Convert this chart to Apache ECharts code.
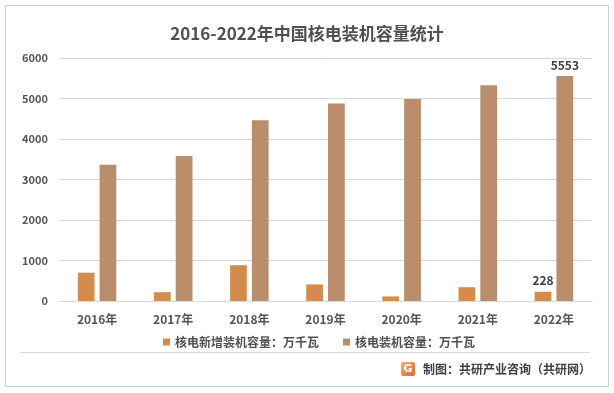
<!DOCTYPE html>
<html><head><meta charset="utf-8">
<script src="https://cdn.jsdelivr.net/npm/echarts@6/dist/echarts.min.js"></script>
<style>html,body{margin:0;padding:0;background:#fff}#c{width:614px;height:393px}</style>
</head><body><div id="c"></div>
<script>
const categories = ['2016年','2017年','2018年','2019年','2020年','2021年','2022年'];
const newCapacity = [699, 218, 884, 409, 112, 340, 228];
const totalCapacity = [3364, 3582, 4466, 4874, 4989, 5326, 5553];
const seriesNames = ['核电新增装机容量：万千瓦','核电装机容量：万千瓦'];
const yTicks = {min:0, max:6000, interval:1000};

const chart = echarts.init(document.getElementById('c'), null, {renderer:'canvas'});
const font = '"Microsoft YaHei","Noto Sans CJK SC",sans-serif';
const lastLabel = (idx) => ({
  show:true, position:'top', color:'#404040', fontSize:12, fontWeight:'bold', fontFamily:font,
  formatter: p => p.dataIndex === idx ? p.value : ''
});
chart.setOption({
  animation:false,
  textStyle:{fontFamily:font},
  title:{text:'2016-2022年中国核电装机容量统计', left:'center', top:20,
    textStyle:{fontSize:17, fontWeight:'bold', color:'#505050', fontFamily:font}},
  grid:{left:59, right:22, top:58, bottom:92},
  legend:{bottom:40, left:158, itemWidth:7, itemHeight:7, itemGap:24,
    icon:'rect', textStyle:{fontSize:12, color:'#505050', fontWeight:'bold', fontFamily:font},
    data:seriesNames},
  xAxis:{type:'category', data:categories,
    axisLine:{lineStyle:{color:'#d9d9d9'}}, axisTick:{show:false},
    axisLabel:{color:'#555555', fontSize:12, fontWeight:'bold', margin:12, fontFamily:font}},
  yAxis:{type:'value', min:yTicks.min, max:yTicks.max, interval:yTicks.interval,
    axisLine:{show:false}, axisTick:{show:false},
    splitLine:{lineStyle:{color:'#d9d9d9'}},
    axisLabel:{color:'#555555', fontSize:11, fontWeight:'bold', margin:11, fontFamily:font,
      formatter: v => String(v)}},
  series:[
    {name:seriesNames[0], type:'bar', data:newCapacity, barWidth:'22%', barGap:'30%',
     itemStyle:{color:'#D38C4C'}, label:lastLabel(6)},
    {name:seriesNames[1], type:'bar', data:totalCapacity, barWidth:'22%', barGap:'30%',
     itemStyle:{color:'#BA8D6B'}, label:lastLabel(6)}
  ],
  graphic:[
    {type:'rect', shape:{x:5.5, y:5.5, width:603, height:381}, style:{fill:'none', stroke:'#d0d0d0', lineWidth:1}, silent:true},
    {type:'line', shape:{x1:20, y1:352.5, x2:590, y2:352.5}, style:{stroke:'#d9d9d9', lineWidth:1}},
    {type:'rect', shape:{x:401, y:362, width:14, height:14, r:2},
     style:{fill:new echarts.graphic.LinearGradient(0,0,1,1,[{offset:0,color:'#F6B26B'},{offset:1,color:'#E8622C'}])}},
    {type:'text', x:408, y:369, style:{text:'G', fill:'#fff', fontSize:11, fontWeight:'bold', align:'center', verticalAlign:'middle', fontFamily:'DejaVu Sans'}},
    {type:'text', x:423, y:369, style:{text:'制图：共研产业咨询（共研网）', fill:'#404040', fontSize:12, fontWeight:'bold', verticalAlign:'middle', fontFamily:font}}
  ]
});
</script></body></html>
